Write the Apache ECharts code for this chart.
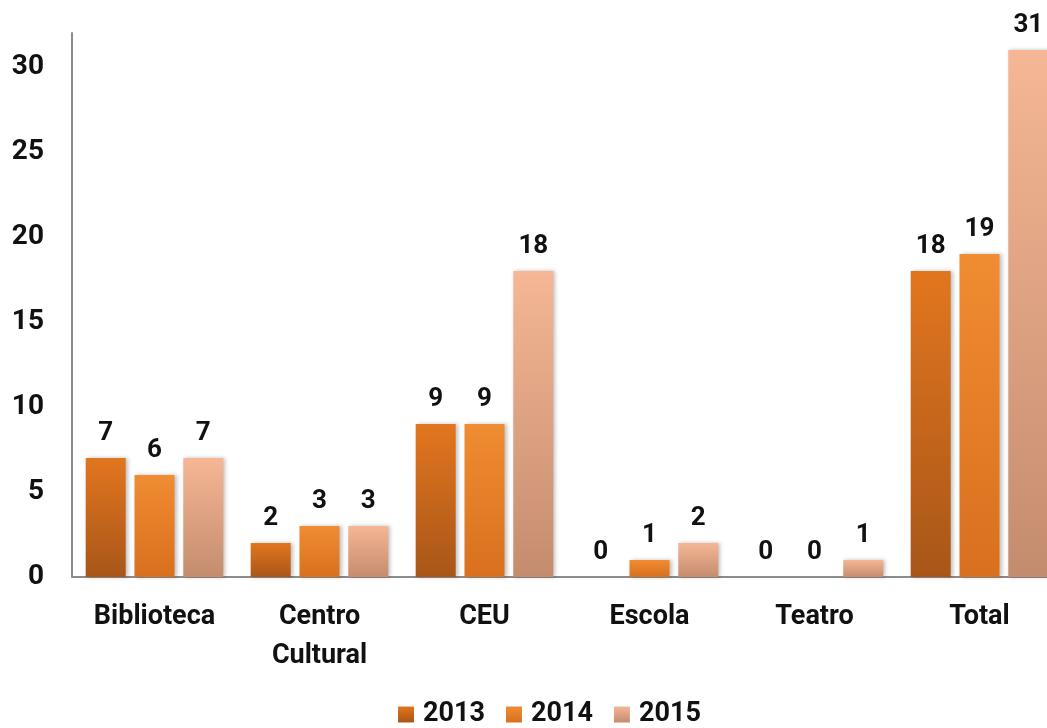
<!DOCTYPE html>
<html>
<head>
<meta charset="utf-8">
<script src="https://cdn.jsdelivr.net/npm/echarts@6/dist/echarts.min.js"></script>
<style>html,body{margin:0;padding:0;background:#fff}#c{width:1047px;height:728px}</style>
</head>
<body>
<div id="c"></div>
<script>
const categories = ['Biblioteca', 'Centro\nCultural', 'CEU', 'Escola', 'Teatro', 'Total'];
const seriesNames = ['2013', '2014', '2015'];
const v2013 = [7, 2, 9, 0, 0, 18];
const v2014 = [6, 3, 9, 1, 0, 19];
const v2015 = [7, 3, 18, 2, 1, 31];
const yTicks = [0, 5, 10, 15, 20, 25, 30];

const FONT = 'Roboto';
function grad(top, bottom) {
  return new echarts.graphic.LinearGradient(0, 0, 0, 1, [
    { offset: 0, color: top }, { offset: 1, color: bottom }
  ]);
}
const colors = [
  grad('#e2761f', '#a85618'),
  grad('#f08c32', '#d8701e'),
  grad('#f5b795', '#c48c6e')
];
const values = [v2013, v2014, v2015];

const chart = echarts.init(document.getElementById('c'));
chart.setOption({
  animation: false,
  backgroundColor: '#fff',
  grid: { left: 72, width: 990, top: 33, bottom: 151, containLabel: false, outerBoundsMode: 'none' },
  legend: {
    top: 701,
    left: 398,
    padding: 0,
    itemWidth: 16, itemHeight: 16, itemGap: 21,
    icon: 'rect',
    textStyle: { fontFamily: FONT, fontSize: 27, fontWeight: 'bold', color: '#111', padding: [0, 0, 0, 4] },
    data: seriesNames
  },
  xAxis: {
    type: 'category',
    data: categories,
    axisLine: { lineStyle: { color: '#8c8c8c', width: 2 } },
    axisTick: { show: false },
    axisLabel: { fontFamily: FONT, fontSize: 27, fontWeight: 'bold', color: '#111', margin: 21, lineHeight: 39, interval: 0 }
  },
  yAxis: {
    type: 'value',
    min: 0, max: 32, interval: 5,
    splitLine: { show: false },
    axisLine: { show: true, lineStyle: { color: '#8c8c8c', width: 2 } },
    axisTick: { show: false },
    axisLabel: {
      fontFamily: FONT, fontSize: 28, fontWeight: 'bold', color: '#111', margin: 28,
      formatter: v => yTicks.includes(v) ? String(v) : ''
    }
  },
  series: seriesNames.map((n, i) => ({
    name: n,
    type: 'bar',
    data: values[i],
    barWidth: 40,
    barGap: '22%',
    itemStyle: {
      color: colors[i],
      shadowColor: 'rgba(0,0,0,0.25)', shadowBlur: 4, shadowOffsetX: 2, shadowOffsetY: 0
    },
    label: {
      show: true, position: 'top', distance: 12,
      fontFamily: FONT, fontSize: 26, fontWeight: 'bold', color: '#111'
    }
  }))
});
</script>
</body>
</html>
